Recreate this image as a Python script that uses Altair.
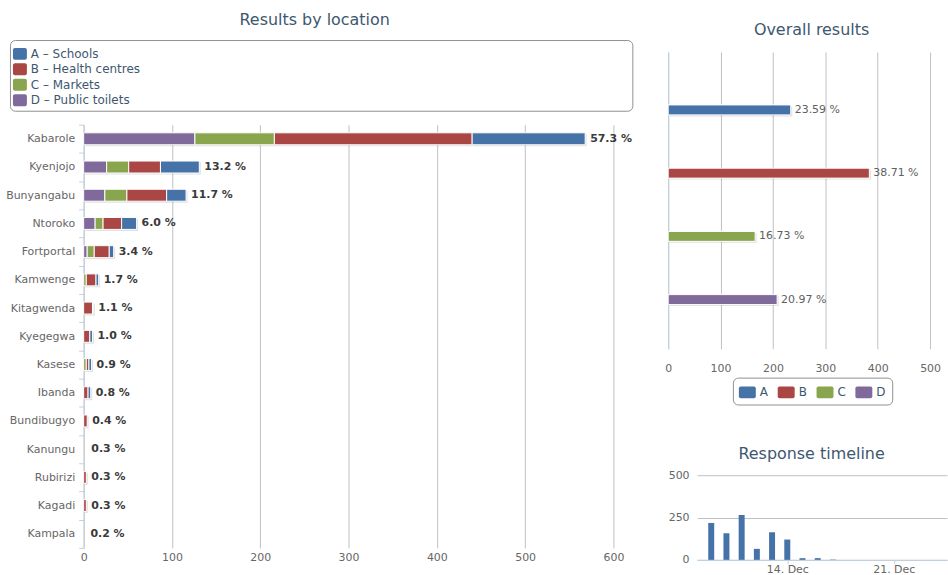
import altair as alt
import pandas as pd

# ---------------- data ----------------
locations = ["Kabarole", "Kyenjojo", "Bunyangabu", "Ntoroko", "Fortportal", "Kamwenge",
             "Kitagwenda", "Kyegegwa", "Kasese", "Ibanda", "Bundibugyo", "Kanungu",
             "Rubirizi", "Kagadi", "Kampala"]
a_schools = [128, 44, 22, 17, 5, 3, 1, 3, 3, 3, 0, 0, 0, 0, 0]
b_health = [224, 36, 45, 21, 17, 11, 10, 7, 3, 5, 4, 0, 3, 3, 0]
c_markets = [90, 25, 25, 9, 8, 3, 0, 0, 3, 0, 0, 0, 0, 0, 0]
d_toilets = [126, 26, 24, 13, 4, 0, 0, 0, 0, 0, 0, 0, 0, 0, 0]
location_totals = [568, 131, 116, 60, 34, 17, 11, 10, 9, 8, 4, 3, 3, 3, 2]

series_codes = ["A", "B", "C", "D"]
series_names = ["A \u2013 Schools", "B \u2013 Health centres", "C \u2013 Markets", "D \u2013 Public toilets"]
series_colors = ["#4572A7", "#AA4643", "#89A54E", "#80699B"]
overall_values = [234, 384, 166, 208]

timeline_dates = ["2020-12-09T00:00:00", "2020-12-10T00:00:00", "2020-12-11T00:00:00",
                  "2020-12-12T00:00:00", "2020-12-13T00:00:00", "2020-12-14T00:00:00",
                  "2020-12-15T00:00:00", "2020-12-16T00:00:00", "2020-12-17T00:00:00"]
timeline_counts = [218, 157, 265, 65, 163, 120, 10, 10, 2]

x_ticks_loc = [0, 100, 200, 300, 400, 500, 600]
x_ticks_overall = [0, 100, 200, 300, 400, 500]
y_ticks_timeline = [0, 250, 500]

# ---------------- style ----------------
FONT = "DejaVu Sans"
TITLE_COLOR = "#3E576F"
LABEL_COLOR = "#666666"
GRID = "#C0C0C0"
AXIS_LINE = "#C0D0E0"

grand_total = sum(overall_values)
color_scale = alt.Scale(domain=series_codes, range=series_colors)


def spacer(w, h):
    return alt.Chart(pd.DataFrame({"s": [""]})).mark_text(opacity=0).encode(
        x=alt.value(0), y=alt.value(0), text="s:N").properties(width=w, height=h)


# ---------------- left: results by location ----------------
stack_order = {"D": 0, "C": 1, "B": 2, "A": 3}
series_lists = {"A": a_schools, "B": b_health, "C": c_markets, "D": d_toilets}
rows = []
for i, loc in enumerate(locations):
    for code in ["D", "C", "B", "A"]:
        v = series_lists[code][i]
        if v > 0:
            rows.append({"location": loc, "series": code, "value": v, "ord": stack_order[code]})
seg_df = pd.DataFrame(rows)
tot_df = pd.DataFrame({
    "location": locations,
    "total": location_totals,
    "segsum": [a_schools[i] + b_health[i] + c_markets[i] + d_toilets[i] for i in range(len(locations))],
    "label": [f"{t / grand_total * 100:.1f} %" for t in location_totals],
})

y_loc = alt.Y("location:N", title=None,
              scale=alt.Scale(domain=locations, paddingInner=0, paddingOuter=0),
              axis=alt.Axis(domainColor=AXIS_LINE, tickColor=AXIS_LINE, tickSize=5,
                            tickBand="extent", labelColor=LABEL_COLOR, labelFont=FONT,
                            labelFontSize=11, labelPadding=4, grid=False))
x_loc_scale = alt.Scale(domain=[0, 600], nice=False)
x_loc_axis = alt.Axis(values=x_ticks_loc, grid=True, gridColor=GRID, domain=False, ticks=False,
                      labelColor=LABEL_COLOR, labelFont=FONT, labelFontSize=11, labelPadding=4,
                      labelFlush=False, title=None)

loc_shadow = alt.Chart(tot_df).transform_filter("datum.segsum > 0").mark_bar(
    size=12, color="#000000", opacity=0.12, xOffset=1.5, yOffset=1.5
).encode(y=y_loc, x=alt.X("segsum:Q", scale=x_loc_scale, axis=x_loc_axis))

loc_bars = alt.Chart(seg_df).mark_bar(size=12, stroke="white", strokeWidth=1).encode(
    y=y_loc,
    x=alt.X("value:Q", stack="zero", scale=x_loc_scale, axis=x_loc_axis),
    color=alt.Color("series:N", scale=color_scale, legend=None),
    order=alt.Order("ord:Q"),
)
loc_labels = alt.Chart(tot_df).mark_text(
    align="left", baseline="middle", dx=5, font=FONT, fontSize=11, fontWeight="bold", color="#3a3a3a"
).encode(y=y_loc, x=alt.X("total:Q", scale=x_loc_scale, axis=x_loc_axis), text="label:N")

loc_chart = alt.layer(loc_shadow, loc_bars, loc_labels).properties(width=532, height=425)

# legend box
leg_df = pd.DataFrame({"code": series_codes, "name": series_names})
leg_y = alt.Y("code:N", axis=None,
              scale=alt.Scale(domain=series_codes, paddingInner=0, paddingOuter=0.29, align=0.68))
leg_sym = alt.Chart(leg_df).mark_bar(size=12, cornerRadius=2).encode(
    y=leg_y, x=alt.value(3), x2=alt.value(17),
    color=alt.Color("code:N", scale=color_scale, legend=None))
leg_txt = alt.Chart(leg_df).mark_text(
    align="left", baseline="middle", font=FONT, fontSize=12, color=TITLE_COLOR
).encode(y=leg_y, x=alt.value(21), text="name:N")
legend_box = alt.layer(leg_sym, leg_txt).properties(
    width=625, height=71,
    title=alt.Title("Results by location", dx=-6.5, offset=12),
    view=alt.ViewBackground(stroke="#909090", strokeWidth=1, cornerRadius=5),
)

left = alt.vconcat(
    legend_box,
    alt.hconcat(spacer(74, 1), loc_chart, spacing=0, bounds="flush"),
    spacing=6,
).resolve_scale(color="independent")

# ---------------- right top: overall results ----------------
ov_df = pd.DataFrame({
    "code": series_codes,
    "value": overall_values,
    "label": [f"{v / grand_total * 100:.2f} %" for v in overall_values],
})
ROUNDED = ("M-0.78,-0.7 L0.78,-0.7 Q1,-0.7 1,-0.48 L1,0.48 Q1,0.7 0.78,0.7 "
           "L-0.78,0.7 Q-1,0.7 -1,0.48 L-1,-0.48 Q-1,-0.7 -0.78,-0.7 Z")
ov_y = alt.Y("code:N", title=None,
             scale=alt.Scale(domain=series_codes, paddingInner=0, paddingOuter=0.3465, align=0.6),
             axis=alt.Axis(labels=False, ticks=False, domainColor=AXIS_LINE, grid=False))
ov_x_scale = alt.Scale(domain=[0, 500], nice=False)
ov_x_axis = alt.Axis(values=x_ticks_overall, grid=True, gridColor=GRID, domain=False, ticks=False,
                     labelColor=LABEL_COLOR, labelFont=FONT, labelFontSize=11, labelPadding=14,
                     labelFlush=False, title=None)
ov_shadow = alt.Chart(ov_df).mark_bar(size=10, color="#000000", opacity=0.12, xOffset=1.5, yOffset=1.5).encode(
    y=ov_y, x=alt.X("value:Q", scale=ov_x_scale, axis=ov_x_axis))
ov_bars = alt.Chart(ov_df).mark_bar(size=10, stroke="white", strokeWidth=1).encode(
    y=ov_y,
    x=alt.X("value:Q", scale=ov_x_scale, axis=ov_x_axis),
    color=alt.Color("code:N", scale=color_scale,
                    legend=alt.Legend(orient="none", legendX=65, legendY=339, direction="horizontal",
                                      title=None, strokeColor="#909090", cornerRadius=5, padding=6,
                                      symbolType=ROUNDED, symbolSize=289, symbolStrokeWidth=0,
                                      labelFont=FONT, labelFontSize=12, labelColor=TITLE_COLOR,
                                      labelOffset=4, columnPadding=9)),
)
ov_text = alt.Chart(ov_df).mark_text(
    align="left", baseline="middle", dx=4, font=FONT, fontSize=11, color="#606060"
).encode(y=ov_y, x=alt.X("value:Q", scale=ov_x_scale, axis=ov_x_axis), text="label:N")
overall = alt.layer(ov_shadow, ov_bars, ov_text).properties(
    width=263, height=298, title=alt.Title("Overall results", dx=12.5, offset=14))

# ---------------- right bottom: response timeline ----------------
tl_df = pd.DataFrame({"date": timeline_dates, "count": timeline_counts})
timeline = alt.Chart(tl_df).mark_bar(size=6, color="#4572A7").encode(
    x=alt.X("date:T", title=None,
            scale=alt.Scale(domain=[alt.DateTime(year=2020, month=12, date=8, hours=9, minutes=30),
                                    alt.DateTime(year=2020, month=12, date=24, hours=4, minutes=10)]),
            axis=alt.Axis(values=[alt.DateTime(year=2020, month=12, date=14),
                                  alt.DateTime(year=2020, month=12, date=21)],
                          format="%d. %b", domainColor=AXIS_LINE, tickColor=AXIS_LINE, tickSize=4,
                          grid=False, labelColor=LABEL_COLOR, labelFont=FONT, labelFontSize=11,
                          labelPadding=0, labelFlush=False)),
    y=alt.Y("count:Q", title=None, scale=alt.Scale(domain=[0, 500], nice=False),
            axis=alt.Axis(values=y_ticks_timeline, grid=True, gridColor=GRID, domain=False, ticks=False,
                          labelColor=LABEL_COLOR, labelFont=FONT, labelFontSize=11, labelPadding=8)),
).properties(width=251, height=85, title=alt.Title("Response timeline", dx=-10.5, offset=7))

right = alt.vconcat(
    alt.vconcat(spacer(1, 12), overall, spacing=0, bounds="flush"),
    alt.hconcat(spacer(29, 1), timeline, spacing=0, bounds="flush"),
    spacing=40,
).resolve_scale(color="independent")

chart = alt.hconcat(left, right, spacing=31).resolve_scale(color="independent").properties(
    padding={"left": 5, "top": 10, "right": 0, "bottom": 0},
    background="white",
).configure_view(stroke="transparent").configure_title(
    font=FONT, fontSize=16, fontWeight="normal", color=TITLE_COLOR, anchor="middle"
)

chart.save("out.html", embed_options={"renderer": "svg", "actions": False})
